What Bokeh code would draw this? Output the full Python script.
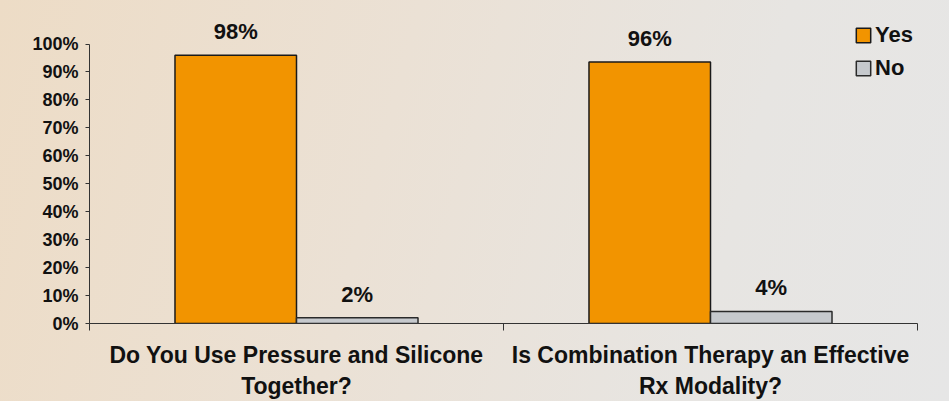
from bokeh.plotting import figure
from bokeh.models import (ColumnDataSource, FixedTicker, Range1d, LabelSet,
                          Legend, LegendItem)
from bokeh.core.properties import value
from bokeh.embed import file_html
from bokeh.resources import INLINE

# ---- data ----
categories = ["Do You Use Pressure and Silicone\nTogether?",
              "Is Combination Therapy an Effective\nRx Modality?"]
series = ["Yes", "No"]
yes_values = [96.0, 93.6]      # bar heights as drawn
no_values = [2.1, 4.3]
yes_labels = ["98%", "96%"]    # printed value labels
no_labels = ["2%", "4%"]
y_ticks = [0, 10, 20, 30, 40, 50, 60, 70, 80, 90, 100]
y_tick_labels = ["0%", "10%", "20%", "30%", "40%", "50%", "60%", "70%", "80%", "90%", "100%"]

# ---- style ----
YES_COLOR = "#F29400"
NO_COLOR = "#C6C9CD"
FONT = "Liberation Sans"
TEXT = "#111111"
BAR_W = 0.2935
Y_TOP = 112   # headroom above the 100% axis end for value labels / legend

n = len(categories)
centers = [i + 0.5 for i in range(n)]
yes_x = [c - BAR_W / 2 for c in centers]
no_x = [c + BAR_W / 2 for c in centers]

src_yes = ColumnDataSource(dict(x=yes_x, top=yes_values, lab=yes_labels))
src_no = ColumnDataSource(dict(x=no_x, top=no_values, lab=no_labels))

p = figure(width=949, height=401, output_backend="svg", toolbar_location=None,
           x_range=Range1d(0, n), y_range=Range1d(y_ticks[0], Y_TOP),
           min_border_left=89, min_border_right=32, min_border_top=10,
           min_border_bottom=78)

p.background_fill_color = None
p.border_fill_color = None
p.outline_line_color = None
p.styles = {
    "background": "linear-gradient(105deg, #EDDCC6 0%, #EBE1D5 40%, #E7E5E2 75%, #E6E6E6 100%)",
}
p.xgrid.grid_line_color = None
p.ygrid.grid_line_color = None

r_yes = p.vbar(x="x", top="top", bottom=0, width=BAR_W, source=src_yes,
               fill_color=YES_COLOR, line_color="#1A1A1A", line_width=1.5)
r_no = p.vbar(x="x", top="top", bottom=0, width=BAR_W, source=src_no,
              fill_color=NO_COLOR, line_color="#2A2A2A", line_width=1.5)

for src in (src_yes, src_no):
    p.add_layout(LabelSet(x="x", y="top", text="lab", source=src,
                          text_align="center", text_baseline="alphabetic",
                          y_offset=16, text_font=value(FONT), text_font_style="bold",
                          text_font_size="22px", text_color=TEXT))

# y axis
ya = p.yaxis[0]
ya.ticker = FixedTicker(ticks=y_ticks, minor_ticks=[])
ya.bounds = (y_ticks[0], y_ticks[-1])
ya.major_label_overrides = {t: l for t, l in zip(y_ticks, y_tick_labels)}
ya.major_tick_in = 0
ya.major_tick_out = 4
ya.minor_tick_line_color = None
ya.major_label_standoff = 7
ya.axis_line_color = "#333333"
ya.major_tick_line_color = "#333333"
ya.major_label_text_font = FONT
ya.major_label_text_font_style = "bold"
ya.major_label_text_font_size = "18px"
ya.major_label_text_color = TEXT

# x axis: labels at category centres, tick marks between categories
xa = p.xaxis[0]
xa.ticker = FixedTicker(ticks=centers, minor_ticks=list(range(n + 1)))
xa.major_label_overrides = {c: l for c, l in zip(centers, categories)}
xa.major_tick_line_color = None
xa.major_tick_in = 0
xa.major_tick_out = 7
xa.minor_tick_in = 0
xa.minor_tick_out = 7
xa.minor_tick_line_color = "#333333"
xa.axis_line_color = "#333333"
xa.major_label_standoff = 11
xa.major_label_text_font = FONT
xa.major_label_text_font_style = "bold"
xa.major_label_text_font_size = "23px"
xa.major_label_text_line_height = 1.2
xa.major_label_text_color = TEXT

legend = Legend(items=[LegendItem(label=series[0], renderers=[r_yes]),
                       LegendItem(label=series[1], renderers=[r_no])],
                location=(765, 242), orientation="vertical",
                glyph_width=18, glyph_height=18, label_height=18,
                label_standoff=3, spacing=7, padding=0, margin=0,
                border_line_color=None, background_fill_color=None,
                label_text_font=FONT, label_text_font_style="bold",
                label_text_font_size="22px", label_text_color=TEXT)
p.add_layout(legend)

open("out.html", "w").write(file_html(p, INLINE))
